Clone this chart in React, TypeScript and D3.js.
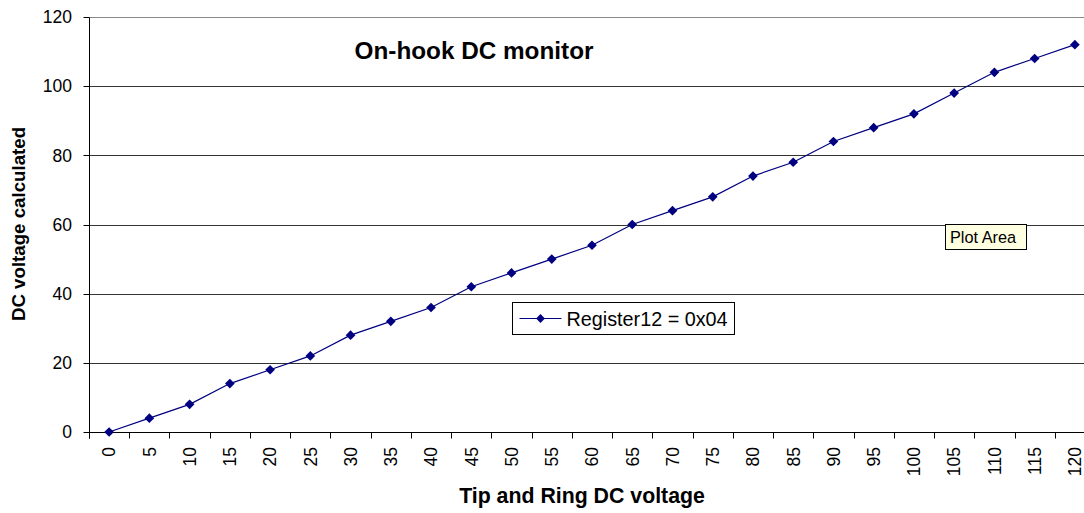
import React from 'react';
import * as d3 from 'd3';

const categories = ['0', '5', '10', '15', '20', '25', '30', '35', '40', '45', '50', '55', '60', '65', '70', '75', '80', '85', '90', '95', '100', '105', '110', '115', '120'];
const register12 = [0, 4, 8, 14, 18, 22, 28, 32, 36, 42, 46, 50, 54, 60, 64, 68, 74, 78, 84, 88, 92, 98, 104, 108, 112];
const yTicks = [0, 20, 40, 60, 80, 100, 120];

const width = 1084;
const height = 513;
const margin = { top: 17, right: -11, bottom: 81, left: 89 };
const font = '"Liberation Sans", Arial, sans-serif';

export default function App() {
  const x = d3.scaleBand()
    .domain(categories)
    .range([margin.left, width - margin.right]);
  const y = d3.scaleLinear()
    .domain([0, 120])
    .range([height - margin.bottom, margin.top]);

  const cx = (c: string) => (x(c) || 0) + x.bandwidth() / 2;
  // snap hairlines to the pixel grid so they stay crisp
  const crisp = (v: number) => Math.round(v) + 0.5;
  const line = d3.line<number>()
    .x((d, i) => cx(categories[i]))
    .y(d => y(d));
  const diamond = d3.symbol().type(d3.symbolDiamond2).size(60)() || '';
  const diamondSmall = d3.symbol().type(d3.symbolDiamond2).size(50)() || '';

  const x0 = crisp(margin.left);
  const y0 = crisp(y(0));
  const tickEdges = categories.map(c => crisp(x(c) || 0)).concat([crisp(width - margin.right)]);

  return (
    <div style={{ position: 'fixed', left: 0, top: 0, width, height, overflow: 'hidden' }}>
      <svg width={width} height={height} style={{ display: 'block', background: '#fff' }} fontFamily={font}>
        {/* gridlines */}
        {yTicks.slice(1).map(t => (
          <line key={t} x1={x0} x2={width} y1={crisp(y(t))} y2={crisp(y(t))}
            stroke={t === 120 ? '#888' : '#333'} strokeWidth={1} />
        ))}
        {/* y axis */}
        <line x1={x0} x2={x0} y1={crisp(y(120))} y2={y0 + 6} stroke="#000" />
        {yTicks.map(t => (
          <g key={t}>
            <line x1={x0 - 6} x2={x0} y1={crisp(y(t))} y2={crisp(y(t))} stroke="#000" />
            <text x={72} y={y(t)} dy="0.36em" textAnchor="end" fontSize={17.5} fill="#000">{t}</text>
          </g>
        ))}
        {/* x axis */}
        <line x1={x0} x2={width} y1={y0} y2={y0} stroke="#000" />
        {tickEdges.map((e, i) => (
          <line key={i} x1={e} x2={e} y1={y0} y2={y0 + 6} stroke="#000" />
        ))}
        {categories.map(c => (
          <text key={c} transform={`translate(${cx(c)},447) rotate(-90)`} dy="0.36em"
            textAnchor="end" fontSize={17.5} fill="#000">{c}</text>
        ))}
        {/* series */}
        <path d={line(register12) || ''} fill="none" stroke="#000080" strokeWidth={1.2} />
        {register12.map((v, i) => (
          <path key={i} d={diamond} transform={`translate(${cx(categories[i])},${y(v)})`} fill="#000080" />
        ))}
        {/* titles */}
        <text x={474} y={59} textAnchor="middle" fontSize={24.3} fontWeight="bold" fill="#000">On-hook DC monitor</text>
        <text transform="translate(25,224) rotate(-90)" textAnchor="middle" fontSize={18.7} fontWeight="bold" fill="#000">DC voltage calculated</text>
        <text x={582} y={503} textAnchor="middle" fontSize={21.3} fontWeight="bold" fill="#000">Tip and Ring DC voltage</text>
        {/* legend */}
        <g transform="translate(512.5,302.5)">
          <rect x={0} y={0} width={222} height={32} fill="#fff" stroke="#000" strokeWidth={1} />
          <line x1={7} x2={49} y1={16} y2={16} stroke="#000080" strokeWidth={1.2} />
          <path d={diamondSmall} transform="translate(28,16)" fill="#000080" />
          <text x={54} y={16} dy="0.36em" fontSize={19.8} fill="#000">Register12 = 0x04</text>
        </g>
        {/* tooltip */}
        <g transform="translate(945.5,224.5)">
          <rect x={0} y={0} width={81} height={25} fill="#ffffe1" stroke="#000" strokeWidth={1} />
          <text x={4.5} y={18.5} fontSize={16.3} fill="#000">Plot Area</text>
        </g>
      </svg>
    </div>
  );
}
